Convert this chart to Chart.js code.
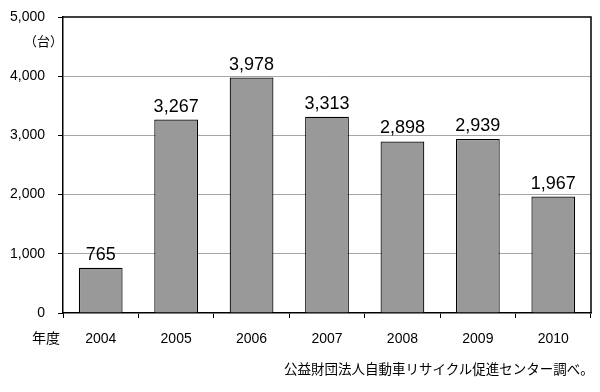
<!DOCTYPE html>
<html><head><meta charset="utf-8">
<script src="https://cdn.jsdelivr.net/npm/chart.js@4/dist/chart.umd.min.js"></script>
<style>
html,body{margin:0;padding:0;background:#fff;}
#wrap{position:relative;width:600px;height:392px;}
.t{position:absolute;font-family:"Noto Sans CJK JP",sans-serif;color:#000;white-space:nowrap;}
</style></head>
<body>
<div id="wrap">
<canvas id="c" width="600" height="392"></canvas>
<div class="t" style="left:24px;top:31px;font-size:13px;">（台）</div>
<div class="t" style="left:32px;top:327px;font-size:14px;">年度</div>
<div class="t" style="left:284px;top:358px;font-size:13.5px;">公益財団法人自動車リサイクル促進センター調べ。</div>
</div>
<script>
const years = ["2004","2005","2006","2007","2008","2009","2010"];
const units = [765,3267,3978,3313,2898,2939,1967];
const yTicks = [0,1000,2000,3000,4000,5000];

const FONT = "'Liberation Sans', Arial, sans-serif";
const labelPlugin = {
  id:'lbl',
  afterDatasetsDraw(chart){
    const ctx = chart.ctx;
    const meta = chart.getDatasetMeta(0);
    ctx.save();
    ctx.font = "18px " + FONT;
    ctx.fillStyle = "#000";
    ctx.textAlign = "center";
    ctx.textBaseline = "alphabetic";
    meta.data.forEach((b,i)=>{
      ctx.fillText(units[i].toLocaleString('en-US'), b.x, b.y - 8);
    });
    const a = chart.chartArea;
    ctx.strokeStyle = "#000";
    ctx.lineWidth = 1.5;
    ctx.beginPath();
    ctx.moveTo(a.left, a.top); ctx.lineTo(a.right, a.top); ctx.lineTo(a.right, a.bottom);
    ctx.stroke();
    ctx.restore();
  }
};

new Chart(document.getElementById('c'), {
  type:'bar',
  data:{labels:years, datasets:[{data:units, backgroundColor:'#999999', borderColor:'#000', borderWidth:1.2, barPercentage:0.58, categoryPercentage:1}]},
  options:{
    responsive:false, animation:false, devicePixelRatio:1,
    layout:{padding:{top:17,right:9,left:0,bottom:0}},
    plugins:{legend:{display:false}, tooltip:{enabled:false}},
    scales:{
      x:{
        grid:{display:true, drawOnChartArea:false, offset:true, color:'#000', tickLength:5},
        border:{display:true, color:'#000', width:1.5},
        ticks:{font:{size:14, family:FONT}, color:'#000', padding:13},
        afterFit(s){ s.height = 79; }
      },
      y:{
        min:0, max:5000,
        afterBuildTicks(s){ s.ticks = yTicks.map(v=>({value:v})); },
        grid:{color:(c)=> (c.tick && (c.tick.value===0||c.tick.value===5000)) ? 'rgba(0,0,0,0)' : '#a6a6a6', tickColor:'#000', tickLength:5, lineWidth:1},
        border:{display:true, color:'#000', width:1.5},
        ticks:{font:{size:14, family:FONT}, color:'#000', padding:13, callback:(v)=>Number(v).toLocaleString('en-US')},
        afterFit(s){ s.width = 63; s.paddingTop = 0; s.paddingBottom = 0; }
      }
    }
  },
  plugins:[labelPlugin]
});
</script>
</body></html>
